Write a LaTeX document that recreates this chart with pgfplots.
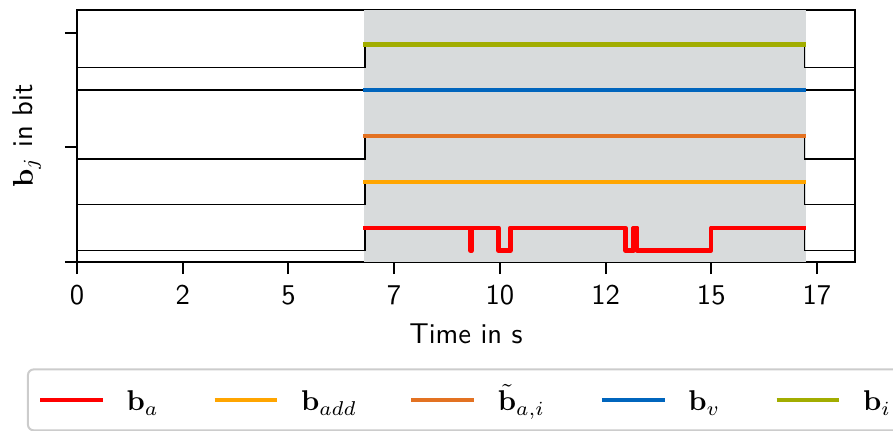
\documentclass[border=0pt]{standalone}
\usepackage{pgfplots}
\pgfplotsset{compat=1.18}
\definecolor{cred}{RGB}{255,0,0}
\definecolor{corange}{RGB}{255,165,0}
\definecolor{cdorange}{RGB}{227,114,34}
\definecolor{cblue}{RGB}{0,101,189}
\definecolor{colive}{RGB}{162,173,0}
\definecolor{cshade}{RGB}{216,219,220}
\definecolor{cframe}{RGB}{204,204,204}
\begin{document}
\begin{tikzpicture}
\begin{axis}[
  at={(0pt,0pt)}, anchor=south west,
  scale only axis, width=272.03pt, height=88.11pt,
  xmin=0, xmax=18.4, ymin=0, ymax=2.2,
  xtick={0,2.5,5,7.5,10,12.5,15,17.5},
  xticklabels={0,2,5,7,10,12,15,17},
  ytick={0,1,2}, yticklabels={},
  tick align=outside, tick pos=left,
  major tick length=4.2pt,
  every tick/.style={black, line width=0.7pt},
  axis line style={line width=0.8pt},
  xticklabel style={font=\sffamily, anchor=base, yshift=-10.5pt},
  xlabel={Time in s},
  xlabel style={at={([yshift=-28.4pt]axis description cs:0.5,0)}, anchor=base, font=\sffamily},
  ylabel={$\mathbf{b}_j$ in bit},
  ylabel style={at={([xshift=-15.4pt]axis description cs:0,0.5)}, anchor=base, font=\sffamily},
  legend columns=5,
  legend style={at={([xshift=-17.5pt,yshift=-37.2pt]axis description cs:0,0)}, anchor=north west,
    draw=cframe, line width=0.7pt, rounded corners=2pt,
    inner xsep=3.5pt, inner ysep=3.85pt,
    nodes={inner xsep=0pt, inner ysep=2pt, text height=8.6pt, text depth=1pt},
    column sep=0pt},
  legend image code/.code={\draw[#1, line width=1.5pt, rounded corners=0pt] (0pt,0pt) -- (22pt,0pt);
    \path (0pt,0pt) (29.5pt,0pt);},
]
% shaded interval
\addplot[fill=cshade, draw=none, forget plot] coordinates {(6.79,2.2)(17.24,2.2)} \closedcycle;
% black signal parts outside the interval
\addplot[black, line width=0.5pt, forget plot] coordinates {(0,0.1)(6.81,0.1)(6.81,0.3)};
\addplot[black, line width=0.5pt, forget plot] coordinates {(17.21,0.3)(17.21,0.1)(18.4,0.1)};
\addplot[black, line width=0.5pt, forget plot] coordinates {(0,0.5)(6.81,0.5)(6.81,0.7)};
\addplot[black, line width=0.5pt, forget plot] coordinates {(17.21,0.7)(17.21,0.5)(18.4,0.5)};
\addplot[black, line width=0.5pt, forget plot] coordinates {(0,0.9)(6.81,0.9)(6.81,1.1)};
\addplot[black, line width=0.5pt, forget plot] coordinates {(17.21,1.1)(17.21,0.9)(18.4,0.9)};
\addplot[black, line width=0.5pt, forget plot] coordinates {(0,1.5)(6.81,1.5)};
\addplot[black, line width=0.5pt, forget plot] coordinates {(17.21,1.5)(18.4,1.5)};
\addplot[black, line width=0.5pt, forget plot] coordinates {(0,1.7)(6.81,1.7)(6.81,1.9)};
\addplot[black, line width=0.5pt, forget plot] coordinates {(17.21,1.9)(17.21,1.7)(18.4,1.7)};
% coloured signals
\addplot[cred, line width=1.5pt, line join=round] coordinates {
 (6.77,0.3)(9.305,0.3)(9.305,0.1)(9.335,0.1)(9.335,0.3)(9.97,0.3)(9.97,0.1)(10.25,0.1)(10.25,0.3)
 (12.97,0.3)(12.97,0.1)(13.16,0.1)(13.16,0.3)(13.25,0.3)(13.25,0.1)(15.0,0.1)(15.0,0.3)(17.24,0.3)};
\addlegendentry{\makebox[30.0pt][l]{$\mathbf{b}_a$}}
\addplot[corange, line width=1.5pt] coordinates {(6.77,0.7)(17.24,0.7)};
\addlegendentry{\makebox[37.8pt][l]{$\mathbf{b}_{add}$}}
\addplot[cdorange, line width=1.5pt] coordinates {(6.77,1.1)(17.24,1.1)};
\addlegendentry{\makebox[35.6pt][l]{$\tilde{\mathbf{b}}_{a,i}$}}
\addplot[cblue, line width=1.5pt] coordinates {(6.77,1.5)(17.24,1.5)};
\addlegendentry{\makebox[30.1pt][l]{$\mathbf{b}_v$}}
\addplot[colive, line width=1.5pt] coordinates {(6.77,1.9)(17.24,1.9)};
\addlegendentry{\makebox[12.1pt][l]{$\mathbf{b}_i$}}
\end{axis}
\pgfresetboundingbox
\path[use as bounding box] (-26.92pt,-58.74pt) rectangle (285.31pt,91.61pt);
\end{tikzpicture}
\end{document}
